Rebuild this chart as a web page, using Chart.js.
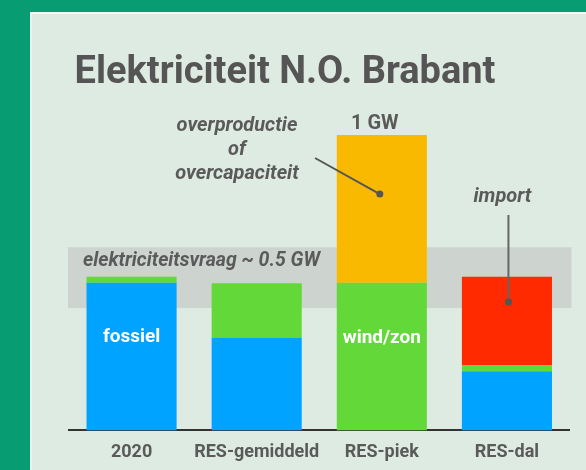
<!DOCTYPE html>
<html>
<head>
<meta charset="utf-8">
<script src="https://cdn.jsdelivr.net/npm/chart.js@4.4.1/dist/chart.umd.min.js"></script>
<style>
  html, body { margin: 0; padding: 0; background: #089c72; }
  canvas { display: block; }
</style>
</head>
<body>
<canvas id="grafiek" width="586" height="470"></canvas>
<script>
const categorieen = ['2020', 'RES-gemiddeld', 'RES-piek', 'RES-dal'];
const fossiel = [0.50, 0.313, 0, 0.20];
const windZon = [0.02, 0.185, 0.50, 0.02];
const overproductie = [0, 0, 0.50, 0];
const importStroom = [0, 0, 0, 0.30];
const vraagBand = [0.414, 0.62];

const grijs = '#5a5a5a';

const achtergrond = {
  id: 'achtergrond',
  beforeDraw(chart) {
    const ctx = chart.ctx;
    ctx.save();
    ctx.fillStyle = '#089c72';
    ctx.fillRect(0, 0, chart.width, chart.height);
    ctx.fillStyle = '#f4f8f5';
    ctx.fillRect(30, 12, chart.width, chart.height);
    ctx.fillStyle = '#deebe2';
    ctx.fillRect(31.5, 14, chart.width, chart.height);
    // titel
    ctx.fillStyle = '#555555';
    ctx.font = 'bold 38px Roboto';
    ctx.textAlign = 'center';
    ctx.textBaseline = 'alphabetic';
    ctx.fillText('Elektriciteit N.O. Brabant', 285, 83);
    ctx.restore();
  },
  beforeDatasetsDraw(chart) {
    // band met de vraag
    const ctx = chart.ctx, y = chart.scales.y, a = chart.chartArea;
    const top = y.getPixelForValue(vraagBand[1]);
    const bot = y.getPixelForValue(vraagBand[0]);
    ctx.save();
    ctx.fillStyle = '#cdd3cf';
    ctx.fillRect(a.left - 1, top, a.right - a.left + 3, bot - top);
    ctx.fillStyle = grijs;
    ctx.font = 'italic bold 19.5px Roboto';
    ctx.textAlign = 'left';
    ctx.textBaseline = 'middle';
    ctx.fillText('elektriciteitsvraag ~ 0.5 GW', a.left + 14, top + 14);
    ctx.restore();
  }
};

const teksten = {
  id: 'teksten',
  afterDatasetsDraw(chart) {
    const ctx = chart.ctx, x = chart.scales.x, y = chart.scales.y;
    ctx.save();
    ctx.textAlign = 'center';
    ctx.textBaseline = 'middle';
    ctx.fillStyle = '#ffffff';
    ctx.font = 'bold 19px Roboto';
    ctx.fillText('fossiel', x.getPixelForValue(0), y.getPixelForValue(0.315));
    ctx.fillText('wind/zon', x.getPixelForValue(2), y.getPixelForValue(0.312));

    // 1 GW boven de piek
    const piekTop = y.getPixelForValue(windZon[2] + overproductie[2]);
    ctx.fillStyle = grijs;
    ctx.font = 'bold 20px Roboto';
    ctx.textBaseline = 'alphabetic';
    ctx.fillText('1 GW', x.getPixelForValue(2) - 7, piekTop - 6);

    // overproductie
    ctx.font = 'italic bold 20px Roboto';
    ctx.fillText('overproductie', 237, 131);
    ctx.fillText('of', 237, 155);
    ctx.fillText('overcapaciteit', 237, 179);
    const dx = x.getPixelForValue(2) - 2, dy = y.getPixelForValue(0.80);
    ctx.strokeStyle = '#555555';
    ctx.lineWidth = 2;
    ctx.beginPath();
    ctx.moveTo(315, 158);
    ctx.lineTo(dx, dy);
    ctx.stroke();
    ctx.fillStyle = '#555555';
    ctx.beginPath();
    ctx.arc(dx, dy, 3.5, 0, Math.PI * 2);
    ctx.fill();

    // import
    const ix = x.getPixelForValue(3) + 1.5, iy = y.getPixelForValue(0.435);
    ctx.fillStyle = grijs;
    ctx.fillText('import', ix - 6, 202);
    ctx.strokeStyle = '#666666';
    ctx.beginPath();
    ctx.moveTo(ix, 215);
    ctx.lineTo(ix, iy);
    ctx.stroke();
    ctx.fillStyle = '#555555';
    ctx.beginPath();
    ctx.arc(ix, iy, 3.5, 0, Math.PI * 2);
    ctx.fill();
    ctx.restore();
  }
};

new Chart(document.getElementById('grafiek'), {
  type: 'bar',
  data: {
    labels: categorieen,
    datasets: [
      { label: 'fossiel', data: fossiel, backgroundColor: '#00a3ff' },
      { label: 'wind/zon', data: windZon, backgroundColor: '#62d938' },
      { label: 'overproductie', data: overproductie, backgroundColor: '#f8b900' },
      { label: 'import', data: importStroom, backgroundColor: '#ff2a00' }
    ]
  },
  options: {
    responsive: false,
    animation: false,
    barPercentage: 0.72,
    categoryPercentage: 1.0,
    layout: { padding: { left: 69, right: 16.5, top: 135, bottom: -4 } },
    plugins: { legend: { display: false }, tooltip: { enabled: false } },
    scales: {
      x: {
        stacked: true,
        grid: { display: false, drawTicks: false },
        border: { display: true, color: '#333333', width: 2 },
        ticks: {
          color: grijs, padding: 11, autoSkip: false, maxRotation: 0, minRotation: 0,
          font: { family: 'Roboto', weight: 'bold', size: 18 }
        }
      },
      y: { stacked: true, display: false, min: 0, max: 1 }
    }
  },
  plugins: [achtergrond, teksten]
});
</script>
</body>
</html>
